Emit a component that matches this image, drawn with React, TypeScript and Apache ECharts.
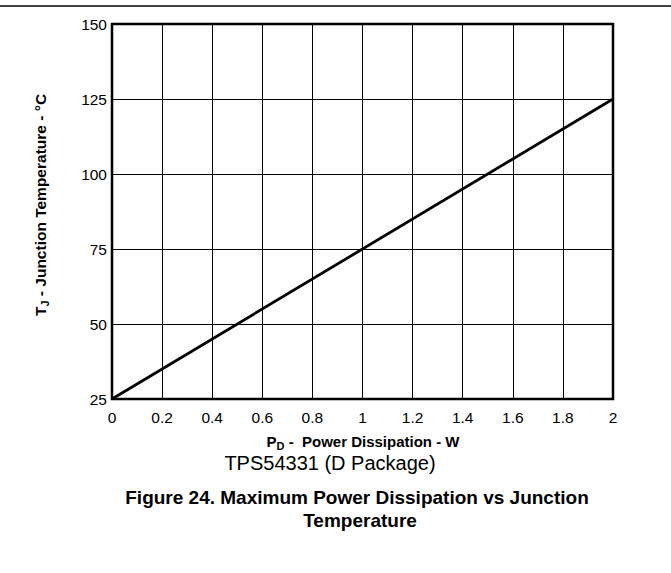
import React, { useEffect, useRef } from "react";
import * as echarts from "echarts";

// Data
const powerW = [0, 2];
const junctionTempC = [25, 125];
const xTickValues = [0, 0.2, 0.4, 0.6, 0.8, 1, 1.2, 1.4, 1.6, 1.8, 2];
const yTickValues = [25, 50, 75, 100, 125, 150];

const FONT = "'Liberation Sans', Arial, Helvetica, sans-serif";

export default function App() {
  const ref = useRef<HTMLDivElement>(null);

  useEffect(() => {
    document.body.style.margin = "0";
    const chart = echarts.init(ref.current!, null, { renderer: "svg" });

    const xMin = xTickValues[0];
    const xMax = xTickValues[xTickValues.length - 1];
    const yMin = yTickValues[0];
    const yMax = yTickValues[yTickValues.length - 1];

    chart.setOption({
      animation: false,
      backgroundColor: "#fff",
      grid: {
        left: 112,
        right: 58,
        top: 24,
        bottom: 174,
        show: true,
        borderColor: "#000",
        borderWidth: 2.5,
        backgroundColor: "transparent",
      },
      xAxis: {
        type: "value",
        min: xMin,
        max: xMax,
        interval: 0.2,
        axisLine: { show: false },
        axisTick: { show: false },
        splitLine: { show: true, lineStyle: { color: "#000", width: 1 } },
        axisLabel: {
          color: "#000",
          fontFamily: FONT,
          fontSize: 15.5,
          margin: 10,
          formatter: (v: number) => String(Math.round(v * 10) / 10),
        },
      },
      yAxis: {
        type: "value",
        min: yMin,
        max: yMax,
        interval: 25,
        axisLine: { show: false },
        axisTick: { show: false },
        splitLine: { show: true, lineStyle: { color: "#000", width: 1 } },
        axisLabel: {
          color: "#000",
          fontFamily: FONT,
          fontSize: 15.5,
          margin: 5,
        },
      },
      series: [
        {
          type: "line",
          data: powerW.map((x, i) => [x, junctionTempC[i]]),
          symbol: "none",
          lineStyle: { color: "#000", width: 2.8 },
          z: 5,
        },
      ],
      graphic: [
        {
          type: "line",
          shape: { x1: 0, y1: 6, x2: 671, y2: 6 },
          style: { stroke: "#000", lineWidth: 1.5 },
        },
        {
          type: "text",
          x: 363,
          y: 441,
          style: {
            text: "{b|P}{s|D}{b| -  Power Dissipation - W}",
            align: "center",
            verticalAlign: "middle",
            fill: "#000",
            rich: {
              b: { fontFamily: FONT, fontSize: 15, fontWeight: "bold", lineHeight: 20, fill: "#000" },
              s: { fontFamily: FONT, fontSize: 11, fontWeight: "bold", lineHeight: 11, verticalAlign: "bottom", fill: "#000" },
            },
          },
        },
        {
          type: "text",
          x: 40,
          y: 205,
          rotation: Math.PI / 2,
          style: {
            text: "{b|T}{s|J}{b| - Junction Temperature - °C}",
            align: "center",
            verticalAlign: "middle",
            fill: "#000",
            rich: {
              b: { fontFamily: FONT, fontSize: 15.5, fontWeight: "bold", lineHeight: 20, fill: "#000" },
              s: { fontFamily: FONT, fontSize: 11, fontWeight: "bold", lineHeight: 11, verticalAlign: "bottom", fill: "#000" },
            },
          },
        },
        {
          type: "text",
          x: 330,
          y: 463,
          style: {
            text: "TPS54331 (D Package)",
            align: "center",
            verticalAlign: "middle",
            fontFamily: FONT,
            fontSize: 20,
            fill: "#000",
          },
        },
        {
          type: "text",
          x: 357,
          y: 497,
          style: {
            text: "Figure 24. Maximum Power Dissipation vs Junction",
            align: "center",
            verticalAlign: "middle",
            fontFamily: FONT,
            fontSize: 19,
            fontWeight: "bold",
            fill: "#000",
          },
        },
        {
          type: "text",
          x: 360,
          y: 520,
          style: {
            text: "Temperature",
            align: "center",
            verticalAlign: "middle",
            fontFamily: FONT,
            fontSize: 19,
            fontWeight: "bold",
            fill: "#000",
          },
        },
      ],
    });

    return () => chart.dispose();
  }, []);

  return <div ref={ref} style={{ width: 671, height: 573 }} />;
}
